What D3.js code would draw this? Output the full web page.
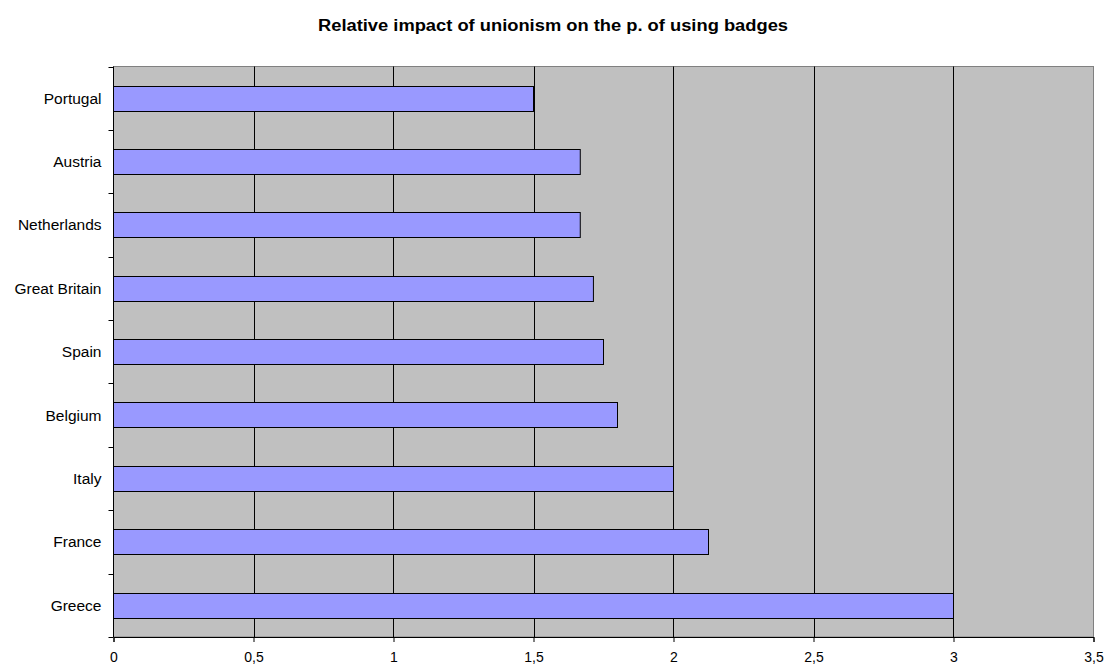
<!DOCTYPE html>
<html>
<head>
<meta charset="utf-8">
<script src="https://cdn.jsdelivr.net/npm/d3@7"></script>
<style>
  html, body { margin: 0; padding: 0; background: #ffffff; }
  svg { display: block; font-family: "Liberation Sans", Arial, sans-serif; }
</style>
</head>
<body>
<svg id="chart" width="1107" height="666"></svg>
<script>
// Countries, top to bottom
const countries = ["Portugal", "Austria", "Netherlands", "Great Britain", "Spain", "Belgium", "Italy", "France", "Greece"];
// Relative impact of union membership on the probability of using badges
const impact = [1.5, 1.667, 1.667, 1.714, 1.75, 1.8, 2.0, 2.125, 3.0];
// X axis ticks
const xTicks = [0, 0.5, 1, 1.5, 2, 2.5, 3, 3.5];
const chartTitle = "Relative impact of unionism on the p. of using badges";

const svg = d3.select("#chart");
const margin = { left: 113.5, right: 13.5, top: 66.5, bottom: 29 };
const W = 1107, H = 666;
const innerW = W - margin.left - margin.right;
const innerH = H - margin.top - margin.bottom;

const x = d3.scaleLinear().domain([0, 3.5]).range([margin.left, margin.left + innerW]);
const y = d3.scaleBand().domain(countries).range([margin.top, margin.top + innerH]).padding(0);

// Plot area background
svg.append("rect")
  .attr("x", margin.left).attr("y", margin.top)
  .attr("width", innerW).attr("height", innerH)
  .attr("fill", "#c0c0c0")
  .attr("stroke", "#808080").attr("stroke-width", 1);

// Vertical gridlines
svg.append("g")
  .selectAll("line")
  .data(xTicks.filter(d => d > 0 && d < 3.5))
  .join("line")
  .attr("x1", d => Math.round(x(d)) + 0.5).attr("x2", d => Math.round(x(d)) + 0.5)
  .attr("y1", margin.top).attr("y2", margin.top + innerH)
  .attr("stroke", "#000").attr("stroke-width", 1);

// Bars
const barH = y.bandwidth() * 0.4;
svg.append("g")
  .selectAll("rect")
  .data(countries.map((c, i) => ({ c, v: impact[i] })))
  .join("rect")
  .attr("x", x(0))
  .attr("y", d => Math.round(y(d.c) + (y.bandwidth() - barH) / 2) + 0.5)
  .attr("width", d => x(d.v) - x(0))
  .attr("height", Math.round(barH))
  .attr("fill", "#9999ff")
  .attr("stroke", "#000").attr("stroke-width", 1);

// Bottom axis
const fmt = d => String(d).replace(".", ",");
const xAxis = d3.axisBottom(x).tickValues(xTicks).tickFormat(fmt).tickSize(5).tickPadding(10);
const gx = svg.append("g")
  .attr("transform", `translate(0,${margin.top + innerH})`)
  .call(xAxis);
gx.select(".domain").attr("stroke", "#000");
gx.selectAll(".tick line").attr("stroke", "#000");
gx.selectAll(".tick text").attr("font-size", 14).attr("fill", "#000")
  .attr("font-family", "Liberation Sans, Arial, sans-serif");

// Left axis: ticks at category boundaries
const gy = svg.append("g").attr("transform", `translate(${margin.left},0)`);
gy.append("line")
  .attr("x1", 0).attr("x2", 0)
  .attr("y1", margin.top).attr("y2", margin.top + innerH)
  .attr("stroke", "#000");
const bounds = countries.map(c => y(c)).concat([margin.top + innerH]);
gy.selectAll("line.tk")
  .data(bounds)
  .join("line").attr("class", "tk")
  .attr("x1", -5).attr("x2", 0)
  .attr("y1", d => Math.round(d) + 0.5).attr("y2", d => Math.round(d) + 0.5)
  .attr("stroke", "#000");
gy.selectAll("text")
  .data(countries)
  .join("text")
  .attr("x", -12)
  .attr("y", d => y(d) + y.bandwidth() / 2)
  .attr("dy", "0.35em")
  .attr("text-anchor", "end")
  .attr("font-size", 15.5)
  .attr("fill", "#000")
  .text(d => d);

// Title
svg.append("text")
  .attr("x", 553).attr("y", 31)
  .attr("text-anchor", "middle")
  .attr("font-size", 16)
  .attr("font-weight", "bold")
  .attr("fill", "#000")
  .attr("textLength", 470)
  .attr("lengthAdjust", "spacingAndGlyphs")
  .text(chartTitle);
</script>
</body>
</html>
